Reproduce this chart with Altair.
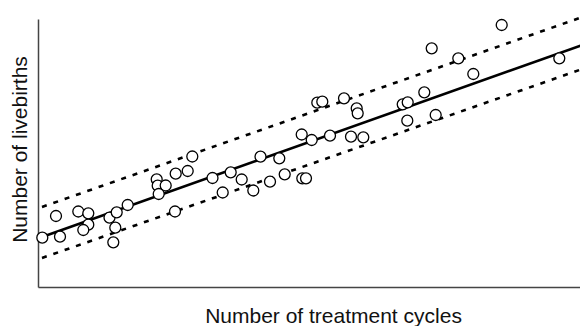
import altair as alt
import pandas as pd

# Scatter values (treatment cycles, livebirths), arbitrary units
cycles = [0.43, 1.8, 2.2, 4.03, 5.03, 5.03, 4.53, 7.15, 7.87, 7.73, 7.53, 8.97,
          11.87, 11.97, 12.77, 12.07, 13.77, 14.97, 15.43, 13.7, 17.45, 18.47,
          19.27, 20.37, 21.53, 22.25, 23.2, 24.13, 24.67, 26.37, 26.43, 26.8,
          27.37, 29.2, 31.3, 32.53, 27.93, 28.43, 30.6, 31.87, 31.97, 36.47,
          36.97, 36.93, 38.63, 39.77, 39.37, 42.03, 43.53, 46.37, 52.13, 55.0]
livebirths = [4.93, 7.1, 5.03, 7.55, 7.37, 6.23, 5.7, 6.93, 7.47, 5.93, 4.47, 8.2,
              10.77, 10.13, 10.15, 9.3, 11.33, 11.6, 13.05, 7.55, 10.9, 9.45,
              11.47, 10.75, 9.65, 13.03, 10.53, 12.87, 11.27, 15.25, 10.87, 10.87,
              14.7, 15.13, 15.03, 14.97, 18.43, 18.53, 18.87, 17.87, 17.37, 18.27,
              18.47, 16.63, 19.47, 17.2, 23.87, 22.87, 21.3, 26.2, 22.87, 18.77]

# Regression line and interval end points
line_x = [0.4, 55.0]
fit_y = [5.0, 24.4]
upper_y = [8.0, 27.2]
lower_y = [2.9, 22.0]

pts = pd.DataFrame({"x": cycles, "y": livebirths})
lines = pd.DataFrame({
    "x": line_x * 3,
    "y": fit_y + upper_y + lower_y,
    "kind": ["fit"] * 2 + ["upper"] * 2 + ["lower"] * 2,
})

xscale = alt.Scale(domain=[0, 54.2], nice=False, zero=False)
yscale = alt.Scale(domain=[0, 26.8], nice=False, zero=False)

xaxis = alt.Axis(
    title="Number of treatment cycles", labels=False, ticks=False, grid=False,
    domainColor="#444", domainWidth=1.5,
    titleFont="Liberation Sans", titleFontSize=21, titleFontWeight="normal",
    titleColor="#111", titleX=295, titleY=35, titleAlign="center",
    titleBaseline="alphabetic",
)
yaxis = alt.Axis(
    title="Number of livebirths", labels=False, ticks=False, grid=False,
    domainColor="#444", domainWidth=1.5,
    titleFont="Liberation Sans", titleFontSize=21, titleFontWeight="normal",
    titleColor="#111", titleX=-12, titleY=130, titleAlign="center",
    titleBaseline="alphabetic", titleAngle=270,
)

fit = alt.Chart(lines).transform_filter(alt.datum.kind == "fit").mark_line(
    color="black", strokeWidth=2.6
).encode(x=alt.X("x:Q", scale=xscale, axis=xaxis), y=alt.Y("y:Q", scale=yscale, axis=yaxis))

bands = alt.Chart(lines).transform_filter(alt.datum.kind != "fit").mark_line(
    color="black", strokeWidth=2.6, strokeDash=[5, 7]
).encode(x=alt.X("x:Q", scale=xscale), y=alt.Y("y:Q", scale=yscale), detail="kind:N")

points = alt.Chart(pts).mark_point(
    shape="circle", filled=False, fill="white", fillOpacity=1, stroke="black",
    strokeWidth=1.3, size=120, opacity=1
).encode(x=alt.X("x:Q", scale=xscale), y=alt.Y("y:Q", scale=yscale))

chart = alt.layer(bands, fit, points).properties(
    width=542, height=268,
    autosize=alt.AutoSizeParams(type="none"),
    padding={"left": 30, "top": 11, "right": 0, "bottom": 39},
).configure_view(stroke=None)

chart.save("out.html", embed_options={"renderer": "svg", "actions": False})
